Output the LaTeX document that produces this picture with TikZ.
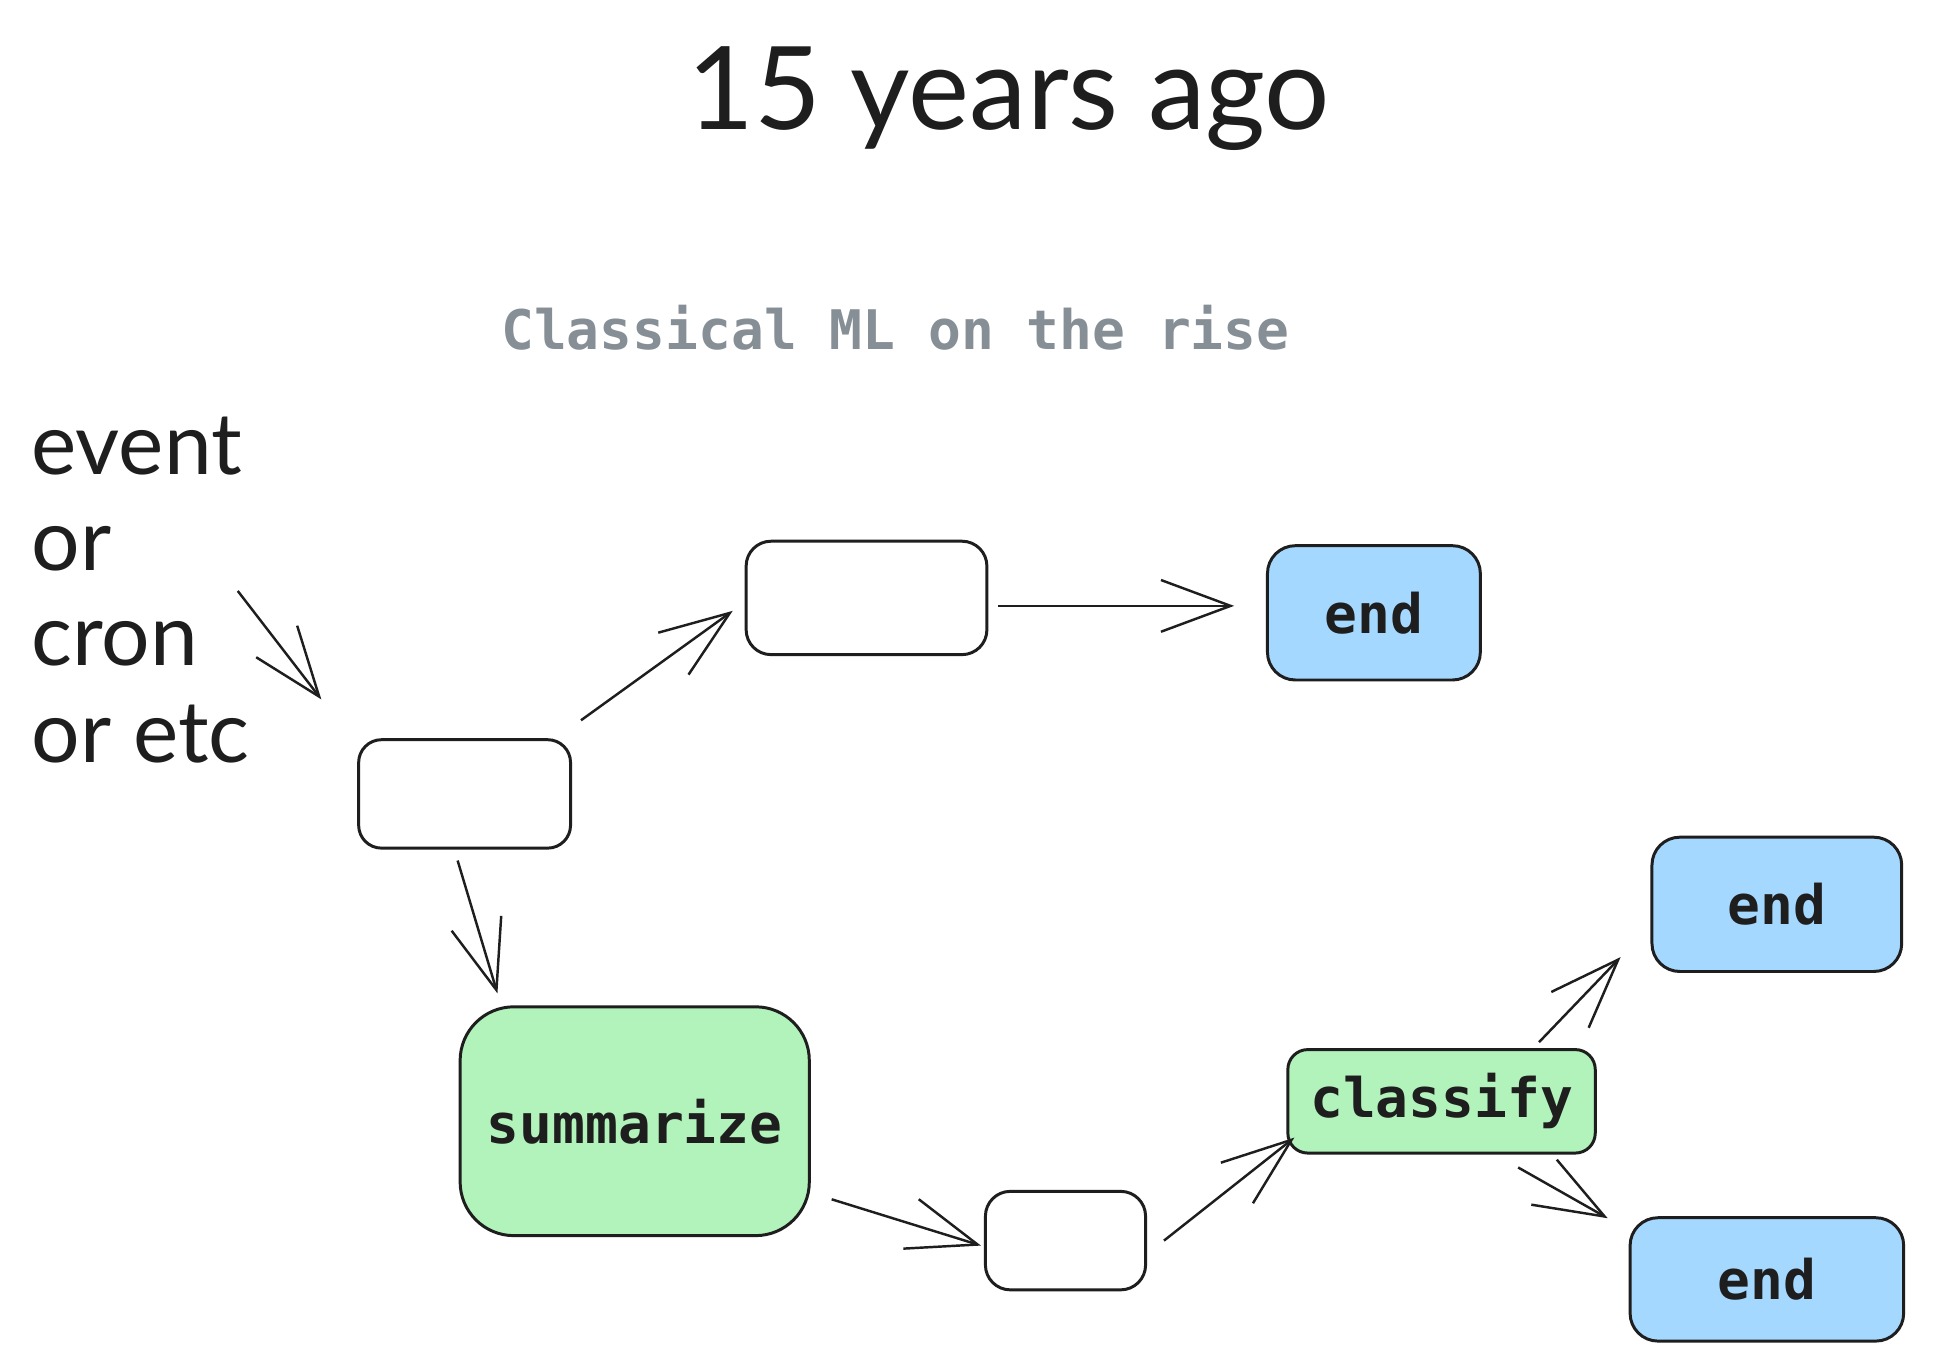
\documentclass[tikz,border=0pt]{standalone}
\usepackage{fontspec}
\setmainfont{Lato}
\setmonofont{DejaVu Sans Mono}
\usetikzlibrary{arrows.meta}

\definecolor{ink}{HTML}{1E1E1E}
\definecolor{endblue}{HTML}{A5D8FF}
\definecolor{stepgreen}{HTML}{B2F2BB}
\definecolor{notegray}{HTML}{868E96}

\newcommand{\boxfont}{\ttfamily\bfseries\fontsize{15.6pt}{18pt}\selectfont}

\tikzset{
    box/.style={draw=ink, line width=0.85pt, fill=white, rounded corners=2.5mm, inner sep=0pt, font=\boxfont, text=ink},
    endbox/.style={box, fill=endblue, rounded corners=2.8mm},
    stepbox/.style={box, fill=stepgreen},
    hand/.style={inner sep=0pt, text=ink, font=\fontsize{24.5pt}{28pt}\selectfont},
    arr/.style={draw=ink, line width=0.7pt, -{Straight Barb[length=7mm, width=5.2mm]}},
}

\begin{document}
\begin{tikzpicture}[x=0.1mm, y=-0.1mm]
    \fill[white] (0,0) rectangle (1944,1378);
    \useasboundingbox (0,0) rectangle (1944,1378);
    % headings
    \node[anchor=base, inner sep=0pt, text=ink, font=\fontsize{33pt}{40pt}\selectfont] (title) at (1014,130) {15 years ago};
    \node[anchor=base, inner sep=0pt, text=notegray, font=\boxfont] (subtitle) at (900,351) {Classical ML on the rise};
    % trigger words
    \node[hand, anchor=base west] (event) at (31,477) {event};
    \node[hand, anchor=base west] (or) at (31,573) {or};
    \node[hand, anchor=base west] (cron) at (31,669) {cron};
    \node[hand, anchor=base west] (etc) at (31,766) {or etc};
    \coordinate (trigger) at (239,594);
    % boxes
    \node[box, minimum width=21.3mm, minimum height=10.9mm, rounded corners=2.3mm] (start) at (467,798) {};
    \node[box, minimum width=24.2mm, minimum height=11.4mm] (fetch) at (871,601) {};
    \node[endbox, minimum width=21.4mm, minimum height=13.5mm] (end1) at (1381,616) {end};
    \node[stepbox, minimum width=35.1mm, minimum height=23.0mm, rounded corners=5.4mm] (summ) at (638,1127) {summarize};
    \node[box, minimum width=16.1mm, minimum height=9.9mm] (prep) at (1071,1247) {};
    \node[stepbox, minimum width=30.9mm, minimum height=10.4mm, rounded corners=2mm] (cls) at (1449,1107) {classify};
    \node[endbox, minimum width=25.1mm, minimum height=13.5mm] (end2) at (1786,909) {end};
    \node[endbox, minimum width=27.5mm, minimum height=12.4mm] (end3) at (1776,1286) {end};
    % connectors
    \draw[arr] (trigger) -- ([shift={(-36,-39)}]start.north west);
    \draw[arr] ([shift={(9,-18)}]start.north east) -- ([shift={(-12,13)}]fetch.west);
    \draw[arr] ([shift={(10,8)}]fetch.east) -- ([shift={(-32,-7)}]end1.west);
    \draw[arr] ([shift={(-7,11)}]start.south) -- ([shift={(39,-12)}]summ.north west);
    \draw[arr] ([shift={(21,-38)}]summ.south east) -- ([shift={(-3,5)}]prep.west);
    \draw[arr] ([shift={(17,0)}]prep.east) -- ([shift={(8,-17)}]cls.south west);
    \draw[arr] ([shift={(-58,-6)}]cls.north east) -- ([shift={(-30,-16)}]end2.south west);
    \draw[arr] ([shift={(-79,13)}]cls.south east) -- ([shift={(-21,2)}]end3.north west);
\end{tikzpicture}
\end{document}
